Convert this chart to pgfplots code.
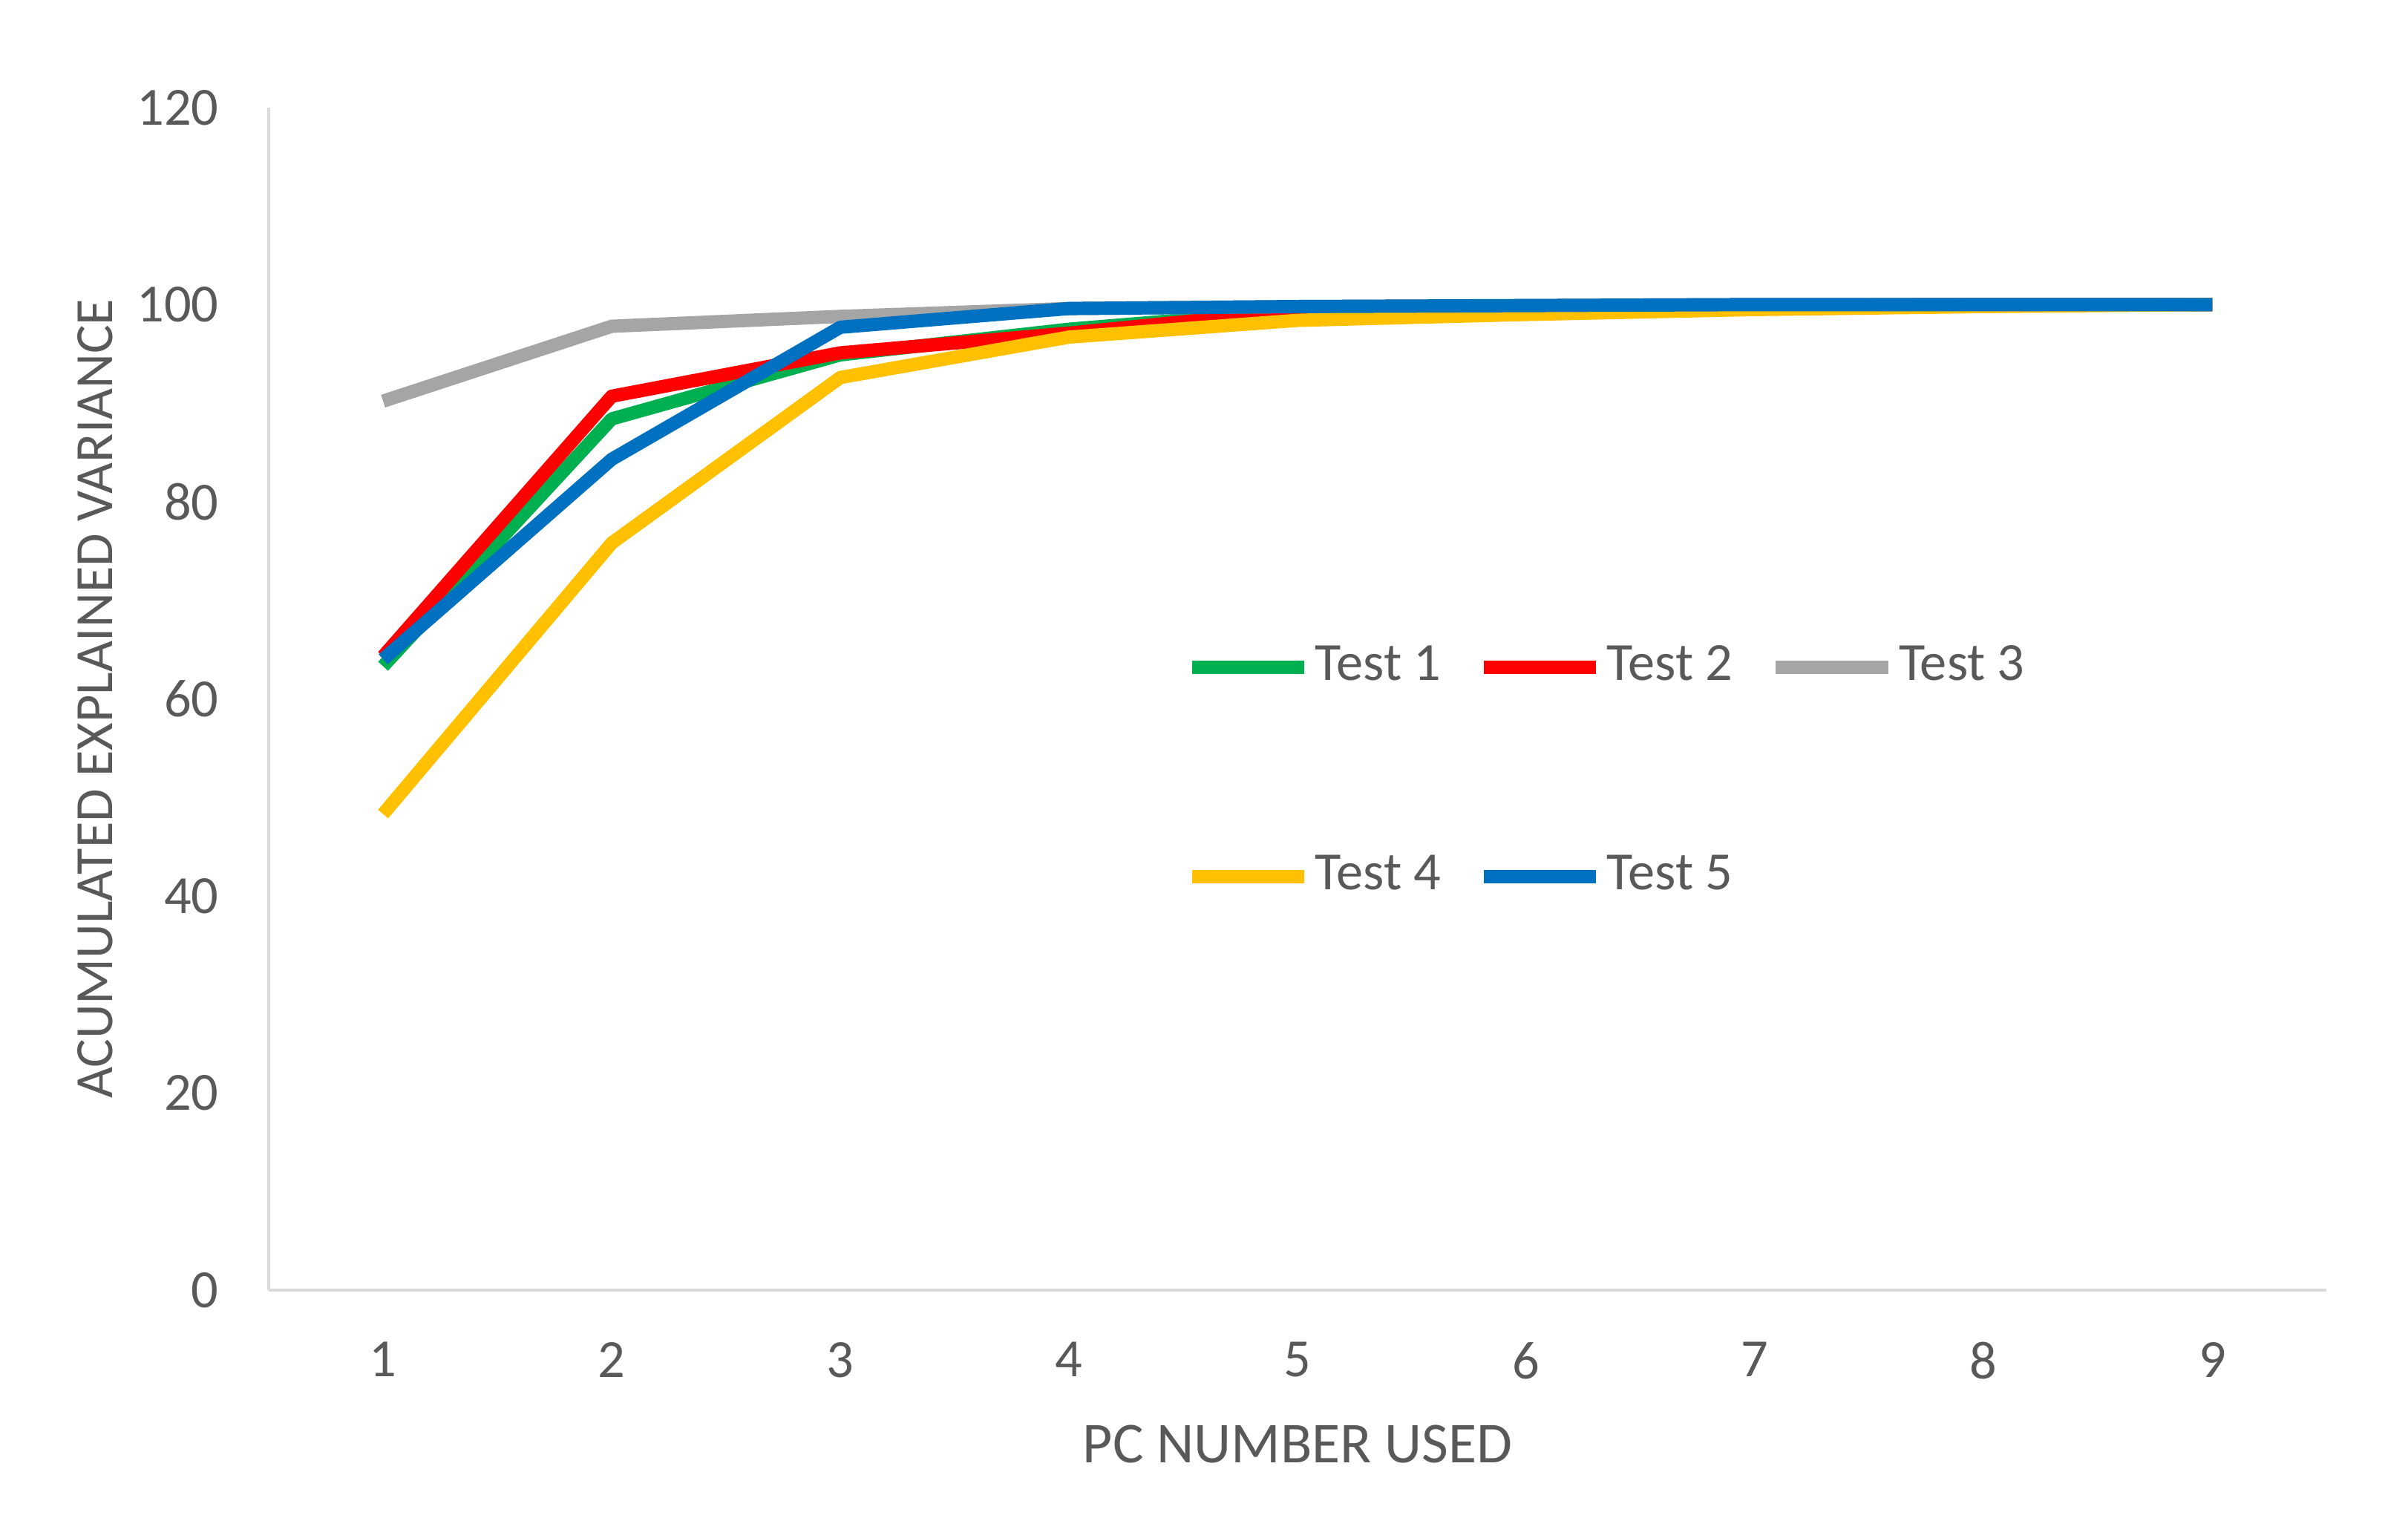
\documentclass[border=0pt]{standalone}
\usepackage{fontspec}
\setmainfont{Carlito}
\usepackage{pgfplots}
\pgfplotsset{compat=1.18}

\definecolor{tgreen}{HTML}{00B050}
\definecolor{tred}{HTML}{FF0000}
\definecolor{tgray}{HTML}{A5A5A5}
\definecolor{tyellow}{HTML}{FFC000}
\definecolor{tblue}{HTML}{0070C0}
\definecolor{txt}{HTML}{595959}
\definecolor{axl}{HTML}{D9D9D9}

\begin{document}
\begin{tikzpicture}
\fontsize{10.5}{12}\selectfont
\begin{axis}[
    scale only axis,
    width=402pt,
    height=231pt,
    xmin=0.5, xmax=9.5,
    ymin=0, ymax=120,
    xtick={1,2,...,9},
    ytick={0,20,...,120},
    major tick length=0pt,
    axis lines*=left,
    axis line style={draw=axl, line width=0.6pt, -},
    /pgf/number format/assume math mode=true,
    ticklabel style={font=\fontsize{10.5}{12}\selectfont, text=txt, inner sep=0pt},
    yticklabel style={xshift=-9.6pt},
    xticklabel style={yshift=-10pt},
    xlabel={PC NUMBER USED},
    ylabel={ACUMULATED EXPLAINED VARIANCE},
    label style={text=txt},
    xlabel style={font=\fontsize{11.3}{13}\selectfont, at={(axis description cs:0.5,-0.13)}, anchor=center},
    ylabel style={font=\fontsize{10.5}{12}\selectfont, at={(axis description cs:-0.0843,0.5)}, anchor=center},
    clip=false,
    legend columns=3,
    legend image code/.code={\draw[#1] (0pt,0pt) -- (22pt,0pt);},
    legend style={
        at={(axis description cs:0.4448,0.4383)}, anchor=west,
        draw=none, fill=none, inner sep=0pt,
        font=\fontsize{10.5}{12}\selectfont, text=txt,
        row sep=28.5pt,
        /tikz/every odd column/.append style={column sep=-1.2pt},
        /tikz/every even column/.append style={column sep=5pt},
    },
    every axis plot/.append style={line width=2.6pt, mark=none, line join=round},
]
\addplot[tgreen] coordinates {
    (1,63.3) (2,88.4) (3,94.9) (4,97.5) (5,99.4) (6,99.8) (7,99.9) (8,100) (9,100)
};
\addplot[tred] coordinates {
    (1,64.3) (2,90.7) (3,95.1) (4,97.1) (5,99.4) (6,99.8) (7,99.9) (8,100) (9,100)
};
\addplot[tgray] coordinates {
    (1,90.2) (2,97.8) (3,98.8) (4,99.6) (5,99.8) (6,99.9) (7,100) (8,100) (9,100)
};
\addplot[tyellow] coordinates {
    (1,48.3) (2,75.8) (3,92.6) (4,96.7) (5,98.4) (6,99.0) (7,99.5) (8,99.8) (9,100)
};
\addplot[tblue] coordinates {
    (1,64.0) (2,84.3) (3,97.7) (4,99.6) (5,99.8) (6,99.9) (7,100) (8,100) (9,100)
};
\legend{Test 1,Test 2,Test 3,Test 4,Test 5}
\coordinate (bl) at (rel axis cs:0,0);
\coordinate (tr) at (rel axis cs:1,1);
\end{axis}
\pgfresetboundingbox
\path ([shift={(-52.5pt,-44.4pt)}]bl) rectangle ([shift={(15.9pt,21pt)}]tr);
\end{tikzpicture}
\end{document}
